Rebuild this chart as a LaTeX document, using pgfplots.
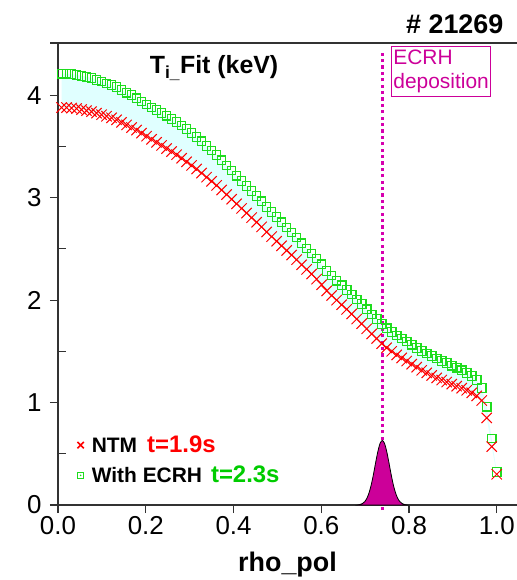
\documentclass[border=0pt]{standalone}
\usepackage{pgfplots}
\pgfplotsset{compat=1.18}
\usepackage{pgfplotstable}
\usepgfplotslibrary{fillbetween}
\usepackage{fontspec}
\setmainfont{Liberation Sans}
\definecolor{ecrhmag}{RGB}{204,0,153}
\definecolor{dotmag}{RGB}{214,0,175}
\definecolor{fillcyan}{RGB}{224,255,255}
\definecolor{txtgreen}{RGB}{0,204,0}
\definecolor{mkgreen}{RGB}{30,220,30}
\definecolor{axgray}{RGB}{50,50,50}

\pgfdeclareplotmark{sqdot}{%
  \pgfpathrectangle{\pgfqpoint{-\pgfplotmarksize}{-\pgfplotmarksize}}{\pgfqpoint{2\pgfplotmarksize}{2\pgfplotmarksize}}%
  \pgfusepathqstroke
  \pgfpathcircle{\pgfpointorigin}{0.3\pgfplotmarksize}%
  \pgfusepathqfill}

\pgfplotstableread{
x ntm ecrh
0.0080 3.880 4.210
0.0194 3.880 4.210
0.0308 3.875 4.205
0.0422 3.870 4.200
0.0536 3.860 4.190
0.0650 3.850 4.180
0.0764 3.840 4.170
0.0878 3.825 4.150
0.0992 3.810 4.135
0.1106 3.795 4.115
0.1220 3.780 4.100
0.1334 3.760 4.080
0.1448 3.735 4.050
0.1562 3.710 4.025
0.1676 3.685 4.000
0.1790 3.660 3.970
0.1904 3.630 3.940
0.2018 3.600 3.910
0.2132 3.570 3.880
0.2246 3.540 3.855
0.2360 3.510 3.825
0.2474 3.480 3.800
0.2588 3.450 3.770
0.2702 3.420 3.740
0.2816 3.385 3.705
0.2930 3.350 3.670
0.3044 3.315 3.630
0.3158 3.280 3.590
0.3272 3.240 3.550
0.3386 3.200 3.505
0.3500 3.160 3.460
0.3614 3.120 3.415
0.3728 3.075 3.365
0.3842 3.030 3.315
0.3956 2.985 3.265
0.4070 2.940 3.215
0.4184 2.895 3.165
0.4298 2.850 3.115
0.4412 2.805 3.065
0.4526 2.760 3.015
0.4640 2.715 2.965
0.4754 2.665 2.910
0.4868 2.620 2.860
0.4982 2.575 2.810
0.5096 2.530 2.760
0.5210 2.485 2.710
0.5324 2.440 2.660
0.5438 2.395 2.610
0.5552 2.345 2.555
0.5666 2.300 2.505
0.5780 2.255 2.455
0.5894 2.205 2.405
0.6008 2.150 2.350
0.6122 2.090 2.285
0.6236 2.045 2.240
0.6350 2.000 2.190
0.6464 1.955 2.145
0.6578 1.910 2.100
0.6692 1.865 2.055
0.6806 1.815 2.005
0.6920 1.770 1.960
0.7034 1.720 1.910
0.7148 1.670 1.860
0.7262 1.625 1.815
0.7376 1.575 1.765
0.7490 1.535 1.725
0.7604 1.500 1.690
0.7718 1.465 1.655
0.7832 1.435 1.625
0.7946 1.405 1.595
0.8060 1.375 1.565
0.8174 1.345 1.535
0.8288 1.315 1.505
0.8402 1.290 1.480
0.8516 1.265 1.455
0.8630 1.240 1.430
0.8744 1.220 1.405
0.8858 1.200 1.385
0.8972 1.180 1.360
0.9086 1.160 1.340
0.9200 1.140 1.315
0.9314 1.120 1.290
0.9428 1.095 1.260
0.9542 1.065 1.220
0.9656 1.020 1.140
0.9770 0.850 0.960
0.9884 0.570 0.650
0.9998 0.300 0.320
}\tidata

\pgfplotstableread{
x p
0.684 0.000
0.689 0.006
0.694 0.015
0.699 0.033
0.704 0.066
0.709 0.121
0.714 0.200
0.719 0.302
0.724 0.417
0.729 0.524
0.734 0.602
0.739 0.630
0.744 0.602
0.749 0.524
0.754 0.417
0.759 0.302
0.764 0.200
0.769 0.121
0.774 0.066
0.779 0.033
0.784 0.015
0.789 0.006
0.794 0.000
}\ecrhdep

\begin{document}
\begin{tikzpicture}
\begin{axis}[
  name=ax,
  scale only axis, width=459bp, height=462bp,
  xmin=0, xmax=1.046, ymin=0, ymax=4.51,
  axis x line*=bottom, axis y line*=left,
  axis line style={-, line width=1.3bp, axgray},
  clip=false,
  xtick={0,0.2,0.4,0.6,0.8,1.0},
  xticklabels={0.0,0.2,0.4,0.6,0.8,1.0},
  ytick={0,1,2,3,4},
  yticklabels={0,1,2,3,4},
  minor ytick={0.5,1.5,2.5,3.5},
  tick align=outside,
  major tick length=8bp, minor tick length=8bp,
  tick style={axgray, line width=1.2bp},
  minor y tick style={xshift=8bp},
  tick label style={font=\fontsize{26}{26}\selectfont},
  yticklabel style={xshift=-5bp},
  xlabel={rho\_pol},
  xlabel style={font=\fontsize{27}{27}\selectfont\bfseries, at={(axis description cs:0.5,-0.145)}, anchor=base},
  legend style={at={(axis description cs:0.042,0.154)}, anchor=north west, draw=none, fill=none,
    inner sep=0pt, font=\fontsize{21}{21}\selectfont\bfseries, row sep=8bp,
    nodes={inner sep=2bp},
    /tikz/every odd column/.append style={column sep=6bp}},
  legend cell align=left,
]
\addlegendimage{only marks, mark=x, red, mark size=4.5bp, line width=1.5bp}
\addlegendentry{NTM\hspace{10bp}{\color{red}\fontsize{24}{24}\selectfont t=1.9s}}
\addlegendimage{only marks, mark=sqdot, mkgreen, mark size=2.8bp, line width=1bp}
\addlegendentry{With ECRH\hspace{9bp}{\color{txtgreen}\fontsize{24}{24}\selectfont t=2.3s}}

\addplot[name path=A, draw=none, forget plot] table[x=x,y=ntm]{\tidata};
\addplot[name path=B, draw=none, forget plot] table[x=x,y=ecrh]{\tidata};
\addplot[fillcyan, forget plot] fill between[of=A and B];

\addplot[dotmag, line width=3.5bp, dash pattern=on 3.2bp off 3.2bp, forget plot] coordinates {(0.739,-0.05) (0.739,4.44)};
\addplot[fill=ecrhmag, draw=black, line width=0.8bp, smooth, forget plot] table[x=x,y=p]{\ecrhdep} \closedcycle;

\addplot[only marks, mark=square, mark size=4.3bp, draw=mkgreen, line width=1.1bp, forget plot] table[x=x,y=ecrh]{\tidata};
\addplot[only marks, mark=x, mark size=7.3bp, red, line width=1bp, forget plot] table[x=x,y=ntm]{\tidata};

\draw[axgray, line width=1.3bp] (rel axis cs:-0.017,1) -- (rel axis cs:1,1);

\node[anchor=east, font=\fontsize{27}{27}\selectfont\bfseries] at (axis description cs:0.978,1.041) {\# 21269};
\node[anchor=base, font=\fontsize{25}{25}\selectfont\bfseries] at (axis description cs:0.34,0.933) {T\textsubscript{i\_}Fit (keV)};
\node[draw=ecrhmag, line width=0.8bp, text=ecrhmag, align=left, anchor=north west, inner xsep=2bp, inner ysep=3bp,
  font=\fontsize{21}{25}\selectfont] at (axis description cs:0.7255,0.9935) {ECRH\\deposition};
\end{axis}
\pgfresetboundingbox
\path[use as bounding box] ([shift={(-58bp,-75bp)}]ax.south west) rectangle ([shift={(0bp,43bp)}]ax.north east);
\end{tikzpicture}
\end{document}
